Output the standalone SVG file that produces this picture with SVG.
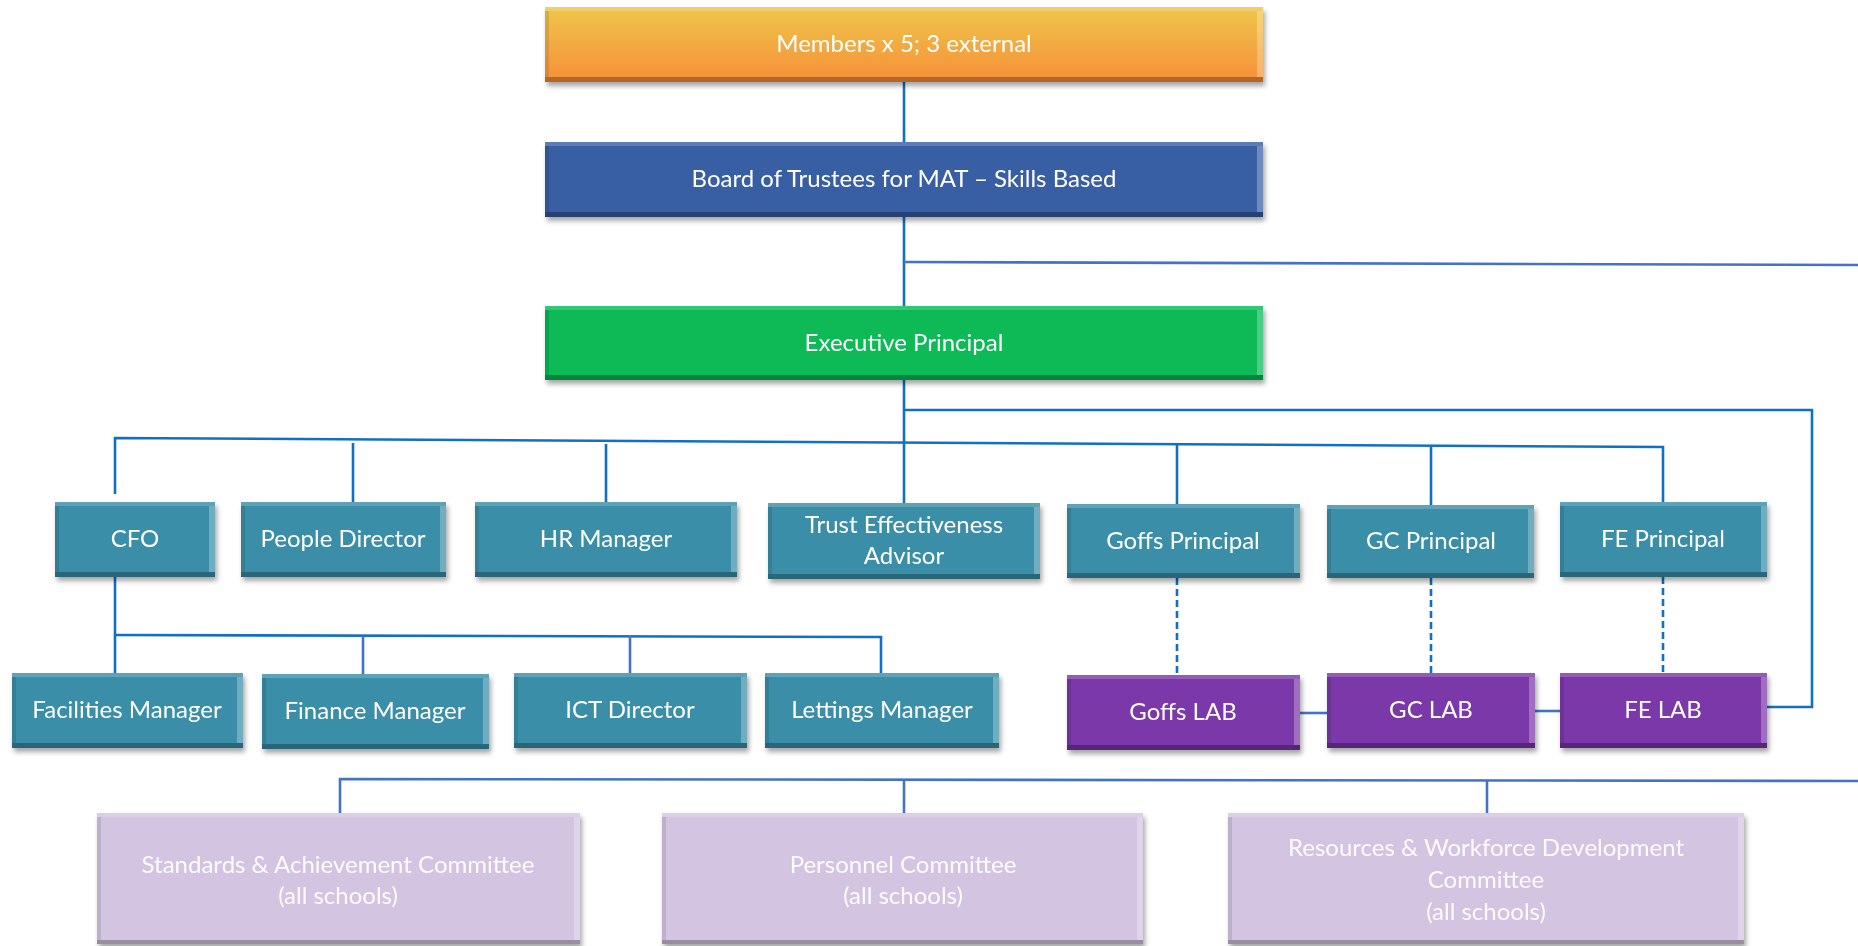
<svg xmlns="http://www.w3.org/2000/svg" width="1858" height="946" viewBox="0 0 1858 946">
<style>
  .t { font-family: Lato, "Liberation Sans", sans-serif; font-size: 24px; fill: #ffffff; text-anchor: middle; }
  .ct { font-family: Lato, "Liberation Sans", sans-serif; font-size: 24px; fill: #fdfbfe; text-anchor: middle; }
  .teal { fill: #3a8ea8; }
  .purple { fill: #7a37a8; }
  .comm { fill: #d3c4e2; }
  .hi { fill: #ffffff; opacity: 0.18; }
  .hir { fill: #ffffff; opacity: 0.28; }
  .lo { fill: #000000; opacity: 0.28; }
  .lol { fill: #000000; opacity: 0.10; }
  .ln { fill: none; stroke: #1170c4; stroke-width: 2.6; }
  .ln2 { fill: none; stroke: #4472c4; stroke-width: 2.6; }
  .dash { fill: none; stroke: #1170c4; stroke-width: 2.6; stroke-dasharray: 7 4; }
</style>
<defs>
  <linearGradient id="gOrange" x1="0" y1="0" x2="0" y2="1">
    <stop offset="0" stop-color="#efc64a"/>
    <stop offset="1" stop-color="#f68f38"/>
  </linearGradient>
  <filter id="sh" x="-5%" y="-10%" width="110%" height="130%">
    <feDropShadow dx="2" dy="4" stdDeviation="2.5" flood-color="#000" flood-opacity="0.35"/>
  </filter>
</defs>
<rect width="1858" height="946" fill="#ffffff"/>

<g id="connectors">
  <path class="ln" d="M904,82 V142"/>
  <path class="ln" d="M904,217 V306"/>
  <path class="ln2" d="M904,262 L1858,265"/>
  <path class="ln" d="M904,380 V503"/>
  <path class="ln" d="M904,410 H1812 V707 H1767"/>
  <path class="ln" d="M115,494 V438 L1663,447 V502"/>
  <path class="ln" d="M353,443 V502"/>
  <path class="ln" d="M606,444 V502"/>
  <path class="ln" d="M1177,444 V504"/>
  <path class="ln" d="M1431,445 V505"/>
  <path class="ln" d="M115,577 V673"/>
  <path class="ln" d="M115,635 L881,637 V673"/>
  <path class="ln2" d="M363,636 V674"/>
  <path class="ln2" d="M630,636 V673"/>
  <path class="dash" d="M1177,578 V675"/>
  <path class="dash" d="M1431,578 V673"/>
  <path class="dash" d="M1663,577 V673"/>
  <path class="ln2" d="M1300,713 H1327"/>
  <path class="ln2" d="M1535,711 H1560"/>
  <path class="ln2" d="M340,813 V779 L1858,781"/>
  <path class="ln2" d="M904,780 V813"/>
  <path class="ln2" d="M1487,781 V813"/>
</g>

<g id="members" filter="url(#sh)">
  <rect x="545" y="7" width="718" height="75" fill="url(#gOrange)"/>
  <rect class="hi" x="545" y="7" width="718" height="4"/><rect class="lo" x="545" y="77" width="718" height="5"/><rect class="hir" x="1257" y="11" width="6" height="66"/><rect class="lol" x="545" y="11" width="4" height="66"/>
  <text class="t" x="904" y="52">Members x 5; 3 external</text>
</g>
<g id="board" filter="url(#sh)">
  <rect x="545" y="142" width="718" height="75" fill="#385ea3"/>
  <rect class="hi" x="545" y="142" width="718" height="4"/><rect class="lo" x="545" y="212" width="718" height="5"/><rect class="hir" x="1257" y="146" width="6" height="66"/><rect class="lol" x="545" y="146" width="4" height="66"/>
  <text class="t" x="904" y="187">Board of Trustees for MAT – Skills Based</text>
</g>
<g id="exec" filter="url(#sh)">
  <rect x="545" y="306" width="718" height="74" fill="#07ba57"/>
  <rect class="hi" x="545" y="306" width="718" height="4"/><rect class="lo" x="545" y="375" width="718" height="5"/><rect class="hir" x="1257" y="310" width="6" height="65"/><rect class="lol" x="545" y="310" width="4" height="65"/>
  <text class="t" x="904" y="351">Executive Principal</text>
</g>

<g id="cfo" filter="url(#sh)">
  <rect class="teal" x="55" y="502" width="160" height="75"/>
  <rect class="hi" x="55" y="502" width="160" height="4"/><rect class="lo" x="55" y="572" width="160" height="5"/><rect class="hir" x="209" y="506" width="6" height="66"/><rect class="lol" x="55" y="506" width="4" height="66"/>
  <text class="t" x="135" y="547">CFO</text>
</g>
<g id="people" filter="url(#sh)">
  <rect class="teal" x="241" y="502" width="205" height="75"/>
  <rect class="hi" x="241" y="502" width="205" height="4"/><rect class="lo" x="241" y="572" width="205" height="5"/><rect class="hir" x="440" y="506" width="6" height="66"/><rect class="lol" x="241" y="506" width="4" height="66"/>
  <text class="t" x="343" y="547">People Director</text>
</g>
<g id="hr" filter="url(#sh)">
  <rect class="teal" x="475" y="502" width="262" height="75"/>
  <rect class="hi" x="475" y="502" width="262" height="4"/><rect class="lo" x="475" y="572" width="262" height="5"/><rect class="hir" x="731" y="506" width="6" height="66"/><rect class="lol" x="475" y="506" width="4" height="66"/>
  <text class="t" x="606" y="547">HR Manager</text>
</g>
<g id="trust" filter="url(#sh)">
  <rect class="teal" x="768" y="503" width="272" height="76"/>
  <rect class="hi" x="768" y="503" width="272" height="4"/><rect class="lo" x="768" y="574" width="272" height="5"/><rect class="hir" x="1034" y="507" width="6" height="67"/><rect class="lol" x="768" y="507" width="4" height="67"/>
  <text class="t" x="904" y="533">Trust Effectiveness</text>
  <text class="t" x="904" y="564">Advisor</text>
</g>
<g id="goffs-principal" filter="url(#sh)">
  <rect class="teal" x="1067" y="504" width="233" height="74"/>
  <rect class="hi" x="1067" y="504" width="233" height="4"/><rect class="lo" x="1067" y="573" width="233" height="5"/><rect class="hir" x="1294" y="508" width="6" height="65"/><rect class="lol" x="1067" y="508" width="4" height="65"/>
  <text class="t" x="1183" y="549">Goffs Principal</text>
</g>
<g id="gc-principal" filter="url(#sh)">
  <rect class="teal" x="1327" y="505" width="207" height="73"/>
  <rect class="hi" x="1327" y="505" width="207" height="4"/><rect class="lo" x="1327" y="573" width="207" height="5"/><rect class="hir" x="1528" y="509" width="6" height="64"/><rect class="lol" x="1327" y="509" width="4" height="64"/>
  <text class="t" x="1431" y="549">GC Principal</text>
</g>
<g id="fe-principal" filter="url(#sh)">
  <rect class="teal" x="1560" y="502" width="207" height="75"/>
  <rect class="hi" x="1560" y="502" width="207" height="4"/><rect class="lo" x="1560" y="572" width="207" height="5"/><rect class="hir" x="1761" y="506" width="6" height="66"/><rect class="lol" x="1560" y="506" width="4" height="66"/>
  <text class="t" x="1663" y="547">FE Principal</text>
</g>

<g id="facilities" filter="url(#sh)">
  <rect class="teal" x="12" y="673" width="231" height="75"/>
  <rect class="hi" x="12" y="673" width="231" height="4"/><rect class="lo" x="12" y="743" width="231" height="5"/><rect class="hir" x="237" y="677" width="6" height="66"/><rect class="lol" x="12" y="677" width="4" height="66"/>
  <text class="t" x="127" y="718">Facilities Manager</text>
</g>
<g id="finance" filter="url(#sh)">
  <rect class="teal" x="262" y="674" width="227" height="75"/>
  <rect class="hi" x="262" y="674" width="227" height="4"/><rect class="lo" x="262" y="744" width="227" height="5"/><rect class="hir" x="483" y="678" width="6" height="66"/><rect class="lol" x="262" y="678" width="4" height="66"/>
  <text class="t" x="375" y="719">Finance Manager</text>
</g>
<g id="ict" filter="url(#sh)">
  <rect class="teal" x="514" y="673" width="233" height="75"/>
  <rect class="hi" x="514" y="673" width="233" height="4"/><rect class="lo" x="514" y="743" width="233" height="5"/><rect class="hir" x="741" y="677" width="6" height="66"/><rect class="lol" x="514" y="677" width="4" height="66"/>
  <text class="t" x="630" y="718">ICT Director</text>
</g>
<g id="lettings" filter="url(#sh)">
  <rect class="teal" x="765" y="673" width="234" height="75"/>
  <rect class="hi" x="765" y="673" width="234" height="4"/><rect class="lo" x="765" y="743" width="234" height="5"/><rect class="hir" x="993" y="677" width="6" height="66"/><rect class="lol" x="765" y="677" width="4" height="66"/>
  <text class="t" x="882" y="718">Lettings Manager</text>
</g>

<g id="goffs-lab" filter="url(#sh)">
  <rect class="purple" x="1067" y="675" width="233" height="75"/>
  <rect class="hi" x="1067" y="675" width="233" height="4"/><rect class="lo" x="1067" y="745" width="233" height="5"/><rect class="hir" x="1294" y="679" width="6" height="66"/><rect class="lol" x="1067" y="679" width="4" height="66"/>
  <text class="t" x="1183" y="720">Goffs LAB</text>
</g>
<g id="gc-lab" filter="url(#sh)">
  <rect class="purple" x="1327" y="673" width="208" height="75"/>
  <rect class="hi" x="1327" y="673" width="208" height="4"/><rect class="lo" x="1327" y="743" width="208" height="5"/><rect class="hir" x="1529" y="677" width="6" height="66"/><rect class="lol" x="1327" y="677" width="4" height="66"/>
  <text class="t" x="1431" y="718">GC LAB</text>
</g>
<g id="fe-lab" filter="url(#sh)">
  <rect class="purple" x="1560" y="673" width="207" height="75"/>
  <rect class="hi" x="1560" y="673" width="207" height="4"/><rect class="lo" x="1560" y="743" width="207" height="5"/><rect class="hir" x="1761" y="677" width="6" height="66"/><rect class="lol" x="1560" y="677" width="4" height="66"/>
  <text class="t" x="1663" y="718">FE LAB</text>
</g>

<g id="standards" filter="url(#sh)">
  <rect class="comm" x="97" y="813" width="483" height="131"/>
  <rect class="hi" x="97" y="813" width="483" height="4"/><rect class="lo" x="97" y="940" width="483" height="4"/><rect class="hir" x="574" y="817" width="6" height="123"/><rect class="lol" x="97" y="817" width="4" height="123"/>
  <text class="ct" x="338" y="873">Standards &amp; Achievement Committee</text>
  <text class="ct" x="338" y="904">(all schools)</text>
</g>
<g id="personnel" filter="url(#sh)">
  <rect class="comm" x="662" y="813" width="481" height="131"/>
  <rect class="hi" x="662" y="813" width="481" height="4"/><rect class="lo" x="662" y="940" width="481" height="4"/><rect class="hir" x="1137" y="817" width="6" height="123"/><rect class="lol" x="662" y="817" width="4" height="123"/>
  <text class="ct" x="903" y="873">Personnel Committee</text>
  <text class="ct" x="903" y="904">(all schools)</text>
</g>
<g id="resources" filter="url(#sh)">
  <rect class="comm" x="1228" y="813" width="516" height="131"/>
  <rect class="hi" x="1228" y="813" width="516" height="4"/><rect class="lo" x="1228" y="940" width="516" height="4"/><rect class="hir" x="1738" y="817" width="6" height="123"/><rect class="lol" x="1228" y="817" width="4" height="123"/>
  <text class="ct" x="1486" y="856">Resources &amp; Workforce Development</text>
  <text class="ct" x="1486" y="888">Committee</text>
  <text class="ct" x="1486" y="920">(all schools)</text>
</g>
</svg>
